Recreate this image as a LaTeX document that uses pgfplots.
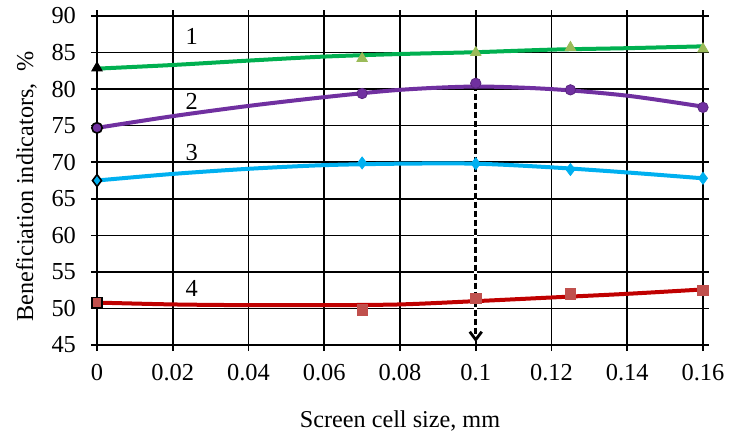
\documentclass[border=0pt]{standalone}
\usepackage{fontspec}
\setmainfont{Liberation Serif}
\usepackage{pgfplots}
\pgfplotsset{compat=1.18}
\usetikzlibrary{arrows.meta}
\definecolor{cgreen}{HTML}{00B050}
\definecolor{cgreenm}{HTML}{9BBB59}
\definecolor{cpurple}{HTML}{7030A0}
\definecolor{ccyan}{HTML}{00B0F0}
\definecolor{cred}{HTML}{C00000}
\definecolor{credm}{HTML}{C0504D}
\begin{document}
\begin{tikzpicture}
\begin{axis}[
  at={(0,0)}, anchor=south west,
  scale only axis, width=303pt, height=164.5pt,
  xmin=0, xmax=0.16, ymin=45, ymax=90,
  xtick={0,0.02,0.04,0.06,0.08,0.1,0.12,0.14,0.16},
  xticklabels={0,0.02,0.04,0.06,0.08,0.1,0.12,0.14,0.16},
  ytick={45,50,55,60,65,70,75,80,85,90},
  grid=major, major grid style={black, line width=0.8pt},
  axis line style={black, line width=0.8pt},
  tick align=outside, major tick length=3pt, tick style={black, line width=0.8pt},
  tick label style={font=\fontsize{12.2}{14}\selectfont},
  yticklabel style={xshift=-4pt},
  xticklabel style={yshift=-3pt},
  /pgf/number format/assume math mode=true,
  xlabel={Screen cell size, mm},
  ylabel={Beneficiation indicators,\ \ \%},
  every axis x label/.style={at={(axis description cs:0.5,0)}, anchor=base, yshift=-41pt, font=\fontsize{12.1}{14}\selectfont},
  every axis y label/.style={at={(axis description cs:-0.1056,0.483)}, anchor=base, rotate=90, font=\fontsize{12.1}{14}\selectfont},
]
% measured markers
\addplot[only marks, mark=triangle*, mark size=3pt, mark options={draw=cgreenm, fill=cgreenm}] coordinates {(0.07,84.2) (0.1,85.0) (0.125,85.7) (0.16,85.5)};
\addplot[only marks, mark=*, mark size=2.6pt, mark options={draw=cpurple!80!black, fill=cpurple}] coordinates {(0.07,79.4) (0.1,80.8) (0.125,79.9) (0.16,77.5)};
\addplot[only marks, mark=diamond*, mark size=3pt, mark options={draw=ccyan, fill=ccyan}] coordinates {(0.07,69.9) (0.1,69.8) (0.125,69.0) (0.16,67.8)};
\addplot[only marks, mark=square*, mark size=2.6pt, mark options={draw=credm, fill=credm}] coordinates {(0.07,49.8) (0.1,51.4) (0.125,52.0) (0.16,52.5)};
% arrow (white underlay so dashes show over the grid line)
\addplot[white, line width=1.6pt] coordinates {(0.1,80.2) (0.1,45.6)};
\addplot[black, line width=1.4pt, dash pattern=on 3pt off 1.5pt, -{Straight Barb[length=4pt,width=6pt]}] coordinates {(0.1,80.6) (0.1,45.4)};
% trend lines
\addplot[cgreen, line width=2pt, smooth] coordinates {(0,82.8) (0.02,83.3) (0.04,83.9) (0.06,84.45) (0.08,84.8) (0.1,85.05) (0.12,85.4) (0.14,85.6) (0.16,85.85)};
\addplot[cpurple, line width=2pt, smooth] coordinates {(0,74.7) (0.02,76.3) (0.04,77.7) (0.06,78.9) (0.08,79.9) (0.1,80.35) (0.12,80.0) (0.14,79.1) (0.16,77.6)};
\addplot[ccyan, line width=2pt, smooth] coordinates {(0,67.5) (0.02,68.4) (0.04,69.1) (0.06,69.6) (0.08,69.8) (0.1,69.8) (0.12,69.3) (0.14,68.6) (0.16,67.8)};
\addplot[cred, line width=2pt, smooth] coordinates {(0,50.8) (0.02,50.55) (0.04,50.45) (0.06,50.45) (0.08,50.55) (0.1,51.0) (0.12,51.5) (0.14,52.0) (0.16,52.6)};
% points at zero
\addplot[only marks, mark=triangle*, mark size=3pt, mark options={draw=black, fill=black}] coordinates {(0,82.9)};
\addplot[only marks, mark=*, mark size=2.6pt, mark options={draw=black, line width=0.8pt, fill=cpurple}] coordinates {(0,74.7)};
\addplot[only marks, mark=diamond*, mark size=3pt, mark options={draw=black, line width=0.8pt, fill=ccyan}] coordinates {(0,67.5)};
\addplot[only marks, mark=square*, mark size=2.6pt, mark options={draw=black, line width=0.8pt, fill=credm}] coordinates {(0,50.8)};
\node[font=\fontsize{12.2}{14}\selectfont] at (axis cs:0.025,87.2) {1};
\node[font=\fontsize{12.2}{14}\selectfont] at (axis cs:0.025,78.3) {2};
\node[font=\fontsize{12.2}{14}\selectfont] at (axis cs:0.025,71.3) {3};
\node[font=\fontsize{12.2}{14}\selectfont] at (axis cs:0.025,52.8) {4};
\end{axis}
\path[use as bounding box] (-48.5pt,-44pt) rectangle (321.5pt,172.5pt);
\end{tikzpicture}
\end{document}
